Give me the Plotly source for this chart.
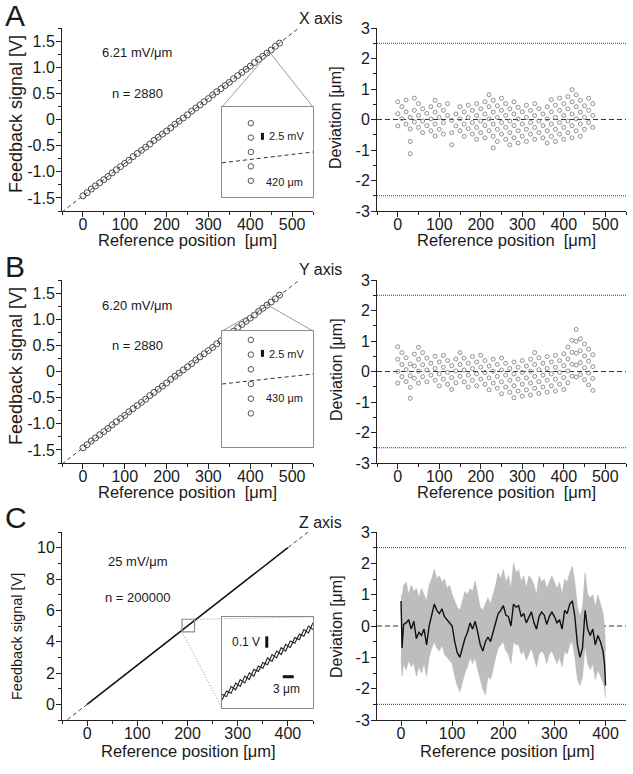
import plotly.graph_objects as go

W, H = 633, 774

# ---------------- data ----------------
positions = [0, 10, 20, 30, 40, 50, 60, 70, 80, 90, 100, 110, 120, 130, 140, 150, 160, 170, 180, 190,
             200, 210, 220, 230, 240, 250, 260, 270, 280, 290, 300, 310, 320, 330, 340, 350, 360, 370,
             380, 390, 400, 410, 420, 430, 440, 450, 460, 470]

A_feedback = [-1.46, -1.40, -1.33, -1.27, -1.21, -1.15, -1.09, -1.02, -0.96, -0.90, -0.84, -0.78,
              -0.71, -0.65, -0.59, -0.53, -0.47, -0.40, -0.34, -0.28, -0.22, -0.16, -0.09, -0.03,
              0.03, 0.09, 0.16, 0.22, 0.28, 0.34, 0.40, 0.47, 0.53, 0.59, 0.65, 0.71, 0.78, 0.84,
              0.90, 0.96, 1.02, 1.09, 1.15, 1.21, 1.27, 1.33, 1.40, 1.46]
B_feedback = [-1.46, -1.40, -1.33, -1.27, -1.21, -1.15, -1.09, -1.02, -0.96, -0.90, -0.84, -0.77,
              -0.71, -0.65, -0.59, -0.53, -0.46, -0.40, -0.34, -0.28, -0.22, -0.15, -0.09, -0.03,
              0.03, 0.09, 0.15, 0.22, 0.28, 0.34, 0.40, 0.46, 0.53, 0.59, 0.65, 0.71, 0.77, 0.84,
              0.90, 0.96, 1.02, 1.08, 1.15, 1.21, 1.27, 1.33, 1.39, 1.46]

A_fit_x = [-50, 550]
A_fit_y = [-1.77, 1.96]
B_fit_x = [-50, 550]
B_fit_y = [-1.77, 1.95]

A_dev = [[0.58, 0.19, -0.21], [0.42, 0.03], [0.64, 0.25, -0.15], [0.07, -0.31, -0.72, -1.12],
         [0.70, 0.30, -0.08], [0.52, 0.13, -0.26], [0.35, -0.05, -0.43], [0.20, -0.20],
         [0.42, 0.02, -0.37], [0.63, 0.24, -0.15, -0.54], [0.47, 0.07, -0.32], [0.30, -0.10, -0.48],
         [0.52, 0.13], [-0.03, -0.43, -0.83], [0.18, -0.21], [0.42, 0.02, -0.37],
         [0.25, -0.15, -0.55], [0.47, 0.07, -0.30], [0.30, -0.10, -0.48], [0.52, 0.13, -0.26, -0.65],
         [0.35, -0.05, -0.43], [0.58, 0.18, -0.20, -0.60], [0.81, 0.42, 0.02, -0.37],
         [0.63, 0.24, -0.15, -0.55, -0.93], [0.45, 0.07, -0.32, -0.72], [0.70, 0.30, -0.10, -0.48],
         [0.52, 0.13, -0.26, -0.65], [0.35, -0.05, -0.43, -0.83], [0.58, 0.18, -0.20, -0.60],
         [0.40, 0.02, -0.37, -0.77], [0.25, -0.15, -0.55], [0.47, 0.07, -0.32, -0.72],
         [0.30, -0.10, -0.48], [0.52, 0.13, -0.26, -0.65], [0.35, -0.05, -0.43], [0.18, -0.20, -0.60],
         [0.42, 0.02, -0.37, -0.77], [0.65, 0.25, -0.15, -0.55], [0.47, 0.07, -0.32, -0.72],
         [0.70, 0.30, -0.10, -0.48], [0.52, 0.13, -0.26, -0.65], [0.75, 0.35, -0.05, -0.43],
         [0.98, 0.58, 0.18, -0.20, -0.60], [0.81, 0.42, 0.02, -0.37], [0.63, 0.24, -0.15, -0.55],
         [0.45, 0.07, -0.32], [0.70, 0.30, -0.10], [0.52, 0.13, -0.26]]

B_dev = [[0.81, 0.40, 0.00, -0.38], [0.62, 0.23, -0.17], [0.45, 0.06, -0.33], [0.25, -0.14, -0.52, -0.88],
         [0.57, 0.18, -0.22], [0.79, 0.40, 0.01, -0.38], [0.62, 0.22, -0.17], [0.44, 0.05, -0.34],
         [0.27, -0.12], [0.50, 0.10, -0.29], [0.31, -0.08, -0.47], [0.53, 0.14, -0.25],
         [0.36, -0.03, -0.42], [0.19, -0.20, -0.59], [0.41, 0.02, -0.37], [0.62, 0.23, -0.16],
         [0.44, 0.05, -0.34], [0.27, -0.12, -0.51], [0.49, 0.10, -0.29], [0.31, -0.08, -0.47],
         [0.53, 0.14, -0.25], [0.36, -0.03, -0.42], [0.18, -0.21, -0.60], [0.40, 0.01, -0.38],
         [0.23, -0.16, -0.55], [0.44, 0.05, -0.34, -0.73], [0.27, -0.12, -0.51], [0.10, -0.29, -0.68],
         [0.31, -0.08, -0.47, -0.86], [0.14, -0.25, -0.64], [0.36, -0.03, -0.42, -0.81],
         [0.18, -0.21, -0.60], [0.40, 0.01, -0.38, -0.77], [0.62, 0.23, -0.16, -0.55],
         [0.45, 0.06, -0.33, -0.72], [0.27, -0.12, -0.51], [0.49, 0.10, -0.29, -0.68],
         [0.31, -0.08, -0.47], [0.53, 0.14, -0.25, -0.64], [0.36, -0.03, -0.42],
         [0.58, 0.19, -0.20, -0.59], [0.80, 0.41, 0.02, -0.37], [1.02, 0.63, 0.24, -0.15],
         [1.38, 0.99, 0.60, 0.21, -0.18], [1.07, 0.68, 0.29, -0.10], [0.90, 0.51, 0.12, -0.27],
         [0.73, 0.34, -0.05, -0.44], [0.55, 0.16, -0.23, -0.62]]

# A / B insets (zoom of quantised feedback levels, mV relative)
A_inset_x = [420, 420, 420, 420, 420]
A_inset_mV = [10.4, 5.2, 0.0, -5.2, -10.4]
A_inset_fit_x = [419.8, 420.43]
A_inset_fit_mV = [-3.9, 0.0]
B_inset_x = [430, 430, 430, 430, 430, 430]
B_inset_mV = [17.7, 12.4, 7.1, 1.8, -3.5, -8.8]
B_inset_fit_x = [429.8, 430.43]
B_inset_fit_mV = [1.8, 5.4]

# C panel
C_line_x = [0, 100, 200, 300, 400]
C_line_V = [0.0, 2.5, 5.0, 7.5, 10.0]
C_fit_x = [-50, 450]
C_fit_V = [-1.25, 11.25]

C_x = [0, 2, 5, 10, 15, 20, 25, 30, 35, 40, 45, 50, 55, 60, 65, 70, 75, 80, 85, 90, 95, 100, 105, 110,
       115, 120, 125, 130, 135, 140, 145, 150, 155, 160, 165, 170, 175, 180, 185, 190, 195, 200, 205,
       210, 215, 220, 225, 230, 235, 240, 245, 250, 255, 260, 265, 270, 275, 280, 285, 290, 295, 300,
       305, 310, 315, 320, 325, 330, 335, 340, 345, 350, 355, 360, 365, 370, 375, 380, 385, 390, 395,
       398, 400]
C_mean = [0.8, -0.7, 0.05, 0.1, 0.2, -0.1, 0.15, -0.4, -0.2, -0.3, -0.1, -0.6, 0.0, 0.4, 0.7, 0.5, 0.4,
          0.55, 0.3, 0.2, 0.1, 0.0, -0.5, -0.85, -1.0, -0.7, -0.4, -0.2, 0.1, -0.1, 0.15, -0.2, -0.6, -0.8,
          -0.5, -0.35, -0.5, -0.2, 0.1, 0.4, 0.5, 0.65, 0.35, 0.3, 0.0, 0.7, 0.6, 0.65, 0.3, 0.4, 0.1, 0.3,
          0.45, 0.1, -0.1, 0.3, 0.45, 0.35, 0.05, 0.3, 0.45, 0.3, 0.1, 0.2, -0.1, 0.5, 0.4, 0.7, 0.8, 0.3,
          -0.6, -1.0, -0.7, 0.5, -0.1, -0.3, -0.1, -0.6, -0.3, -0.5, -0.8, -1.2, -1.9]
C_upper = [1.0, 0.9, 1.3, 1.4, 1.0, 1.3, 1.1, 1.2, 0.9, 1.2, 1.0, 0.8, 1.3, 1.5, 1.8, 1.5, 1.6, 1.4, 1.5,
           1.2, 1.3, 1.0, 0.8, 0.6, 0.5, 0.8, 1.1, 1.0, 1.2, 1.1, 1.45, 1.0, 0.6, 0.5, 0.7, 0.9, 0.7, 1.0,
           1.3, 1.7, 1.5, 1.8, 1.4, 1.6, 1.2, 2.0, 1.7, 1.8, 1.4, 1.6, 1.2, 1.6, 1.5, 1.3, 1.0, 1.6, 1.4,
           1.5, 1.2, 1.4, 1.6, 1.4, 1.2, 1.4, 1.0, 1.5, 1.4, 1.7, 1.9, 1.4, 0.6, 0.3, 0.6, 1.7, 1.0, 0.9,
           1.0, 0.6, 1.0, 0.7, 0.4, 0.0, -0.8]
C_lower = [-1.0, -1.6, -1.2, -1.4, -1.1, -1.3, -1.2, -1.6, -1.3, -1.5, -1.2, -1.6, -1.0, -0.7, -0.5, -0.7,
           -0.8, -0.6, -0.9, -1.0, -1.1, -1.2, -1.6, -1.9, -2.1, -1.8, -1.5, -1.3, -1.0, -1.2, -1.0, -1.4,
           -1.7, -2.0, -2.2, -1.6, -1.7, -1.4, -1.0, -0.7, -0.6, -0.5, -0.8, -0.9, -1.2, -0.5, -0.6, -0.6,
           -0.9, -0.8, -1.1, -0.9, -0.7, -1.0, -1.3, -0.9, -0.8, -0.9, -1.2, -0.9, -0.8, -1.0, -1.2, -1.0,
           -1.3, -0.8, -0.9, -0.6, -0.5, -1.0, -1.7, -1.9, -1.6, -0.6, -1.2, -1.4, -1.2, -1.7, -1.4, -1.6,
           -1.8, -2.0, -2.3]

# C inset (magnified window of the Z trace)
C_inset_x = [189, 190.25, 191.5, 192.75, 194, 195.25, 196.5, 197.75, 199, 200.25, 201.5, 202.75, 204,
             205.25, 206.5, 207.75, 209, 210.25, 211.5, 212.75, 214]
C_inset_up = [4.75, 4.73, 4.82, 4.79, 4.88, 4.85, 4.94, 4.91, 5.00, 4.98, 5.07, 5.04, 5.13, 5.10, 5.19,
              5.16, 5.25, 5.23, 5.32, 5.29, 5.38]
C_inset_dn = [4.70, 4.78, 4.76, 4.85, 4.82, 4.91, 4.88, 4.97, 4.95, 5.03, 5.01, 5.10, 5.07, 5.16, 5.13,
              5.22, 5.20, 5.28, 5.26, 5.35, 5.32]

# ---------------- layout helpers ----------------
FONT = "Liberation Sans, Arial, sans-serif"
TXT = "#1a1a1a"


def px(x):
    return x / W


def py(y):
    return 1 - y / H


COLS = {"L": (62, 313), "R": (377, 626)}
ROWS = {"A": (28, 211), "B": (280, 463), "C": (532, 720)}

fig = go.Figure()
layout = dict(width=W, height=H, margin=dict(l=0, r=0, t=0, b=0, pad=0), paper_bgcolor="white",
              plot_bgcolor="white", showlegend=False, font=dict(family=FONT, color=TXT))


def main_axes(n, col, row, xr, yr, xticks, yticks, yticktext, xminor, yminor):
    x0, x1 = COLS[col]
    y0, y1 = ROWS[row]
    common = dict(showline=True, linecolor="#222", linewidth=1, ticks="outside", ticklen=5,
                  tickwidth=1, tickcolor="#222", showgrid=False, zeroline=False, automargin=False,
                  tickfont=dict(size=16, family=FONT, color=TXT))
    layout["xaxis%d" % n] = dict(common, domain=[px(x0), px(x1)], range=xr, anchor="y%d" % n,
                                  tickmode="array", tickvals=xticks, ticktext=[str(t) for t in xticks],
                                  ticklabelstandoff=-6,
                                  minor=dict(ticks="outside", ticklen=3, tickcolor="#222",
                                             tickmode="linear", tick0=0, dtick=xminor))
    layout["yaxis%d" % n] = dict(common, domain=[py(y1), py(y0)], range=yr, anchor="x%d" % n,
                                  tickmode="array", tickvals=yticks, ticktext=yticktext,
                                  ticklabelstandoff=-2,
                                  minor=dict(ticks="outside", ticklen=3, tickcolor="#222",
                                             tickmode="linear", tick0=0, dtick=yminor))


fb_ticks = [-1.5, -1.0, -0.5, 0, 0.5, 1.0, 1.5]
fb_text = ["-1.5", "-1.0", "-0.5", "0", "0.5", "1.0", "1.5"]
dev_ticks = [-3, -2, -1, 0, 1, 2, 3]
dev_text = ["-3", "-2", "-1", "0", "1", "2", "3"]
x500 = [0, 100, 200, 300, 400, 500]
x400 = [0, 100, 200, 300, 400]

main_axes(1, "L", "A", [-50, 550], [-1.75, 1.75], x500, fb_ticks, fb_text, 50, 0.25)
main_axes(2, "R", "A", [-50, 550], [-3, 3], x500, dev_ticks, dev_text, 50, 0.5)
main_axes(3, "L", "B", [-50, 550], [-1.75, 1.75], x500, fb_ticks, fb_text, 50, 0.25)
main_axes(4, "R", "B", [-50, 550], [-3, 3], x500, dev_ticks, dev_text, 50, 0.5)
main_axes(5, "L", "C", [-50, 450], [-1, 11], x400, [0, 2, 4, 6, 8, 10], ["0", "2", "4", "6", "8", "10"], 50, 1)
main_axes(6, "R", "C", [-47, 440], [-3, 3], x400, dev_ticks, dev_text, 50, 0.5)

# insets
INSET = {7: ("A", [419.8, 420.43], [-16.25, 16.25]),
         8: ("B", [429.8, 430.43], [-20.9, 20.9]),
         9: ("C", [189, 214], [4.63, 5.43])}
INSET_PX = {"A": (222, 313, 107, 197), "B": (222, 313, 331, 447), "C": (222, 313, 617, 708)}
for n, (row, xr, yr) in INSET.items():
    x0, x1, y0, y1 = INSET_PX[row]
    ia = dict(showline=True, mirror=True, linecolor="#8c8c8c", linewidth=1.3, ticks="",
              showticklabels=False, showgrid=False, zeroline=False, automargin=False)
    layout["xaxis%d" % n] = dict(ia, domain=[px(x0), px(x1)], range=xr, anchor="y%d" % n)
    layout["yaxis%d" % n] = dict(ia, domain=[py(y1), py(y0)], range=yr, anchor="x%d" % n)


def dpx(n, xv, yv):
    """data of axis pair n -> paper coordinates"""
    xa, ya = layout["xaxis%d" % n], layout["yaxis%d" % n]
    xd, xr = xa["domain"], xa["range"]
    yd, yr = ya["domain"], ya["range"]
    return (xd[0] + (xv - xr[0]) / (xr[1] - xr[0]) * (xd[1] - xd[0]),
            yd[0] + (yv - yr[0]) / (yr[1] - yr[0]) * (yd[1] - yd[0]))


# ---------------- traces ----------------
def flat(devs):
    xs, ys = [], []
    for p, vals in zip(positions, devs):
        for v in vals:
            xs.append(p)
            ys.append(v)
    return xs, ys


for n, fb, fx, fy in [(1, A_feedback, A_fit_x, A_fit_y), (3, B_feedback, B_fit_x, B_fit_y)]:
    fig.add_trace(go.Scatter(x=fx, y=fy, mode="lines", line=dict(color="#444", width=1, dash="4px,3px"),
                             xaxis="x%d" % n, yaxis="y%d" % n))
    fig.add_trace(go.Scatter(x=positions, y=fb, mode="markers",
                             marker=dict(symbol="circle-open", size=6, color="#4a4a4a", line=dict(width=1)),
                             xaxis="x%d" % n, yaxis="y%d" % n))

for n, devs in [(2, A_dev), (4, B_dev)]:
    xs, ys = flat(devs)
    fig.add_trace(go.Scatter(x=xs, y=ys, mode="markers",
                             marker=dict(symbol="circle-open", size=4, color="#8f8f8f", line=dict(width=1)),
                             xaxis="x%d" % n, yaxis="y%d" % n))

# inset A/B
for n, ix, iy, fx, fy in [(7, A_inset_x, A_inset_mV, A_inset_fit_x, A_inset_fit_mV),
                          (8, B_inset_x, B_inset_mV, B_inset_fit_x, B_inset_fit_mV)]:
    fig.add_trace(go.Scatter(x=fx, y=fy, mode="lines", line=dict(color="#333", width=1, dash="4px,3px"),
                             xaxis="x%d" % n, yaxis="y%d" % n))
    fig.add_trace(go.Scatter(x=ix, y=iy, mode="markers",
                             marker=dict(symbol="circle-open", size=5.5, color="#555", line=dict(width=1)),
                             xaxis="x%d" % n, yaxis="y%d" % n))

# C left
fig.add_trace(go.Scatter(x=C_fit_x, y=C_fit_V, mode="lines", line=dict(color="#444", width=1, dash="4px,3px"),
                         xaxis="x5", yaxis="y5"))
fig.add_trace(go.Scatter(x=C_line_x, y=C_line_V, mode="lines", line=dict(color="#111", width=1.5),
                         xaxis="x5", yaxis="y5"))

# C right : noise band and mean
fig.add_trace(go.Scatter(x=C_x, y=C_lower, mode="lines", line=dict(width=0.5, color="#b0b0b0"),
                         xaxis="x6", yaxis="y6"))
fig.add_trace(go.Scatter(x=C_x, y=C_upper, mode="lines", line=dict(width=0.5, color="#b0b0b0"),
                         fill="tonexty", fillcolor="#bdbdbd", xaxis="x6", yaxis="y6"))
fig.add_trace(go.Scatter(x=C_x, y=C_mean, mode="lines", line=dict(width=1.4, color="#111"),
                         xaxis="x6", yaxis="y6"))

# C inset
for strand in (C_inset_up, C_inset_dn):
    fig.add_trace(go.Scatter(x=C_inset_x, y=strand, mode="lines", line=dict(width=1.1, color="#222"),
                             xaxis="x9", yaxis="y9"))

# ---------------- shapes ----------------
shapes = []
for n in (2, 4, 6):
    for yv, dash, col in [(2.5, "1px,1px", "#333"), (-2.5, "1px,1px", "#333"), (0, "5px,3px", "#333")]:
        shapes.append(dict(type="line", xref="x%d domain" % n, yref="y%d" % n, x0=0, x1=1, y0=yv, y1=yv,
                           line=dict(color=col, width=1, dash=dash), layer="below"))

# pointer lines A / B
for n, ins, pt in [(1, "A", (446, 1.29)), (3, "B", (442, 1.27))]:
    x0, x1, y0, y1 = INSET_PX[ins]
    sxp, syp = dpx(n, *pt)
    for cx in (x0, x1):
        shapes.append(dict(type="line", xref="paper", yref="paper", x0=sxp, y0=syp, x1=px(cx), y1=py(y0),
                           line=dict(color="#9a9a9a", width=1)))

# scale bars
shapes.append(dict(type="line", xref="x7", yref="y7", x0=420.08, x1=420.08, y0=4.4, y1=6.9,
                   line=dict(color="#111", width=3)))
shapes.append(dict(type="line", xref="x8", yref="y8", x0=430.08, x1=430.08, y0=11.6, y1=14.1,
                   line=dict(color="#111", width=3)))
shapes.append(dict(type="line", xref="x9", yref="y9", x0=201.3, x1=201.3, y0=5.16, y1=5.26,
                   line=dict(color="#111", width=3)))
shapes.append(dict(type="line", xref="x9", yref="y9", x0=205.7, x1=208.7, y0=4.905, y1=4.905,
                   line=dict(color="#111", width=3)))

# C source box and dotted connectors
shapes.append(dict(type="rect", xref="x5", yref="y5", x0=189, x1=214, y0=4.63, y1=5.43,
                   line=dict(color="#8c8c8c", width=1.2)))
bx1, by1 = dpx(5, 214, 5.43)
bx0, by0 = dpx(5, 189, 4.63)
ix0, ix1, iy0, iy1 = INSET_PX["C"]
shapes.append(dict(type="line", xref="paper", yref="paper", x0=bx1, y0=by1, x1=px(ix1), y1=py(iy0),
                   line=dict(color="#8c8c8c", width=1, dash="1px,2px")))
shapes.append(dict(type="line", xref="paper", yref="paper", x0=bx0, y0=by0, x1=px(ix0), y1=py(iy1),
                   line=dict(color="#8c8c8c", width=1, dash="1px,2px")))
layout["shapes"] = shapes

# ---------------- text ----------------
ann = []


def text(t, x, y, size, xanchor="left", angle=0, yanchor="middle"):
    ann.append(dict(text=t, x=px(x), y=py(y), xref="paper", yref="paper", showarrow=False,
                    xanchor=xanchor, yanchor=yanchor, textangle=angle,
                    font=dict(size=size, family=FONT, color=TXT)))


offs = {"A": 0, "B": 252}
for row, lab, ax, sens, n in [("A", "A", "X axis", "6.21 mV/μm", "n = 2880"),
                              ("B", "B", "Y axis", "6.20 mV/μm", "n = 2880")]:
    o = offs[row]
    text(lab, 3, 15 + o, 30)
    text(ax, 297, 18 + o, 16)
    text(sens, 100, 53 + o, 13)
    text(n, 110, 93 + o, 13)
    text("Feedback signal [V]", 16, 114 + o, 18, xanchor="center", angle=-90)
    text("Deviation [μm]", 336, 118 + o, 16, xanchor="center", angle=-90)
    text("Reference position  [μm]", 187, 240 + o, 16.5, xanchor="center")
    text("Reference position  [μm]", 506, 240 + o, 16.5, xanchor="center")

text("2.5 mV", 267, 136, 11)
text("420 μm", 264, 182, 11)
text("2.5 mV", 267, 354, 11)
text("430 μm", 264, 398, 11)

text("C", 3, 517, 30)
text("Z axis", 297, 522, 16)
text("25 mV/μm", 106, 561, 13)
text("n = 200000", 103, 597, 13)
text("0.1 V", 262, 642, 12, xanchor="right")
text("3 μm", 286, 689, 12, xanchor="center")
text("Feedback signal [V]", 17, 637, 14.5, xanchor="center", angle=-90)
text("Deviation [μm]", 336, 627, 16, xanchor="center", angle=-90)
text("Reference position [μm]", 189, 751, 16.5, xanchor="center")
text("Reference position [μm]", 507, 751, 16.5, xanchor="center")
layout["annotations"] = ann

fig.update_layout(**layout)
fig.write_html("out.html", config={"displayModeBar": False},
               post_script="document.body.style.margin='0';document.body.style.overflow='hidden';")
